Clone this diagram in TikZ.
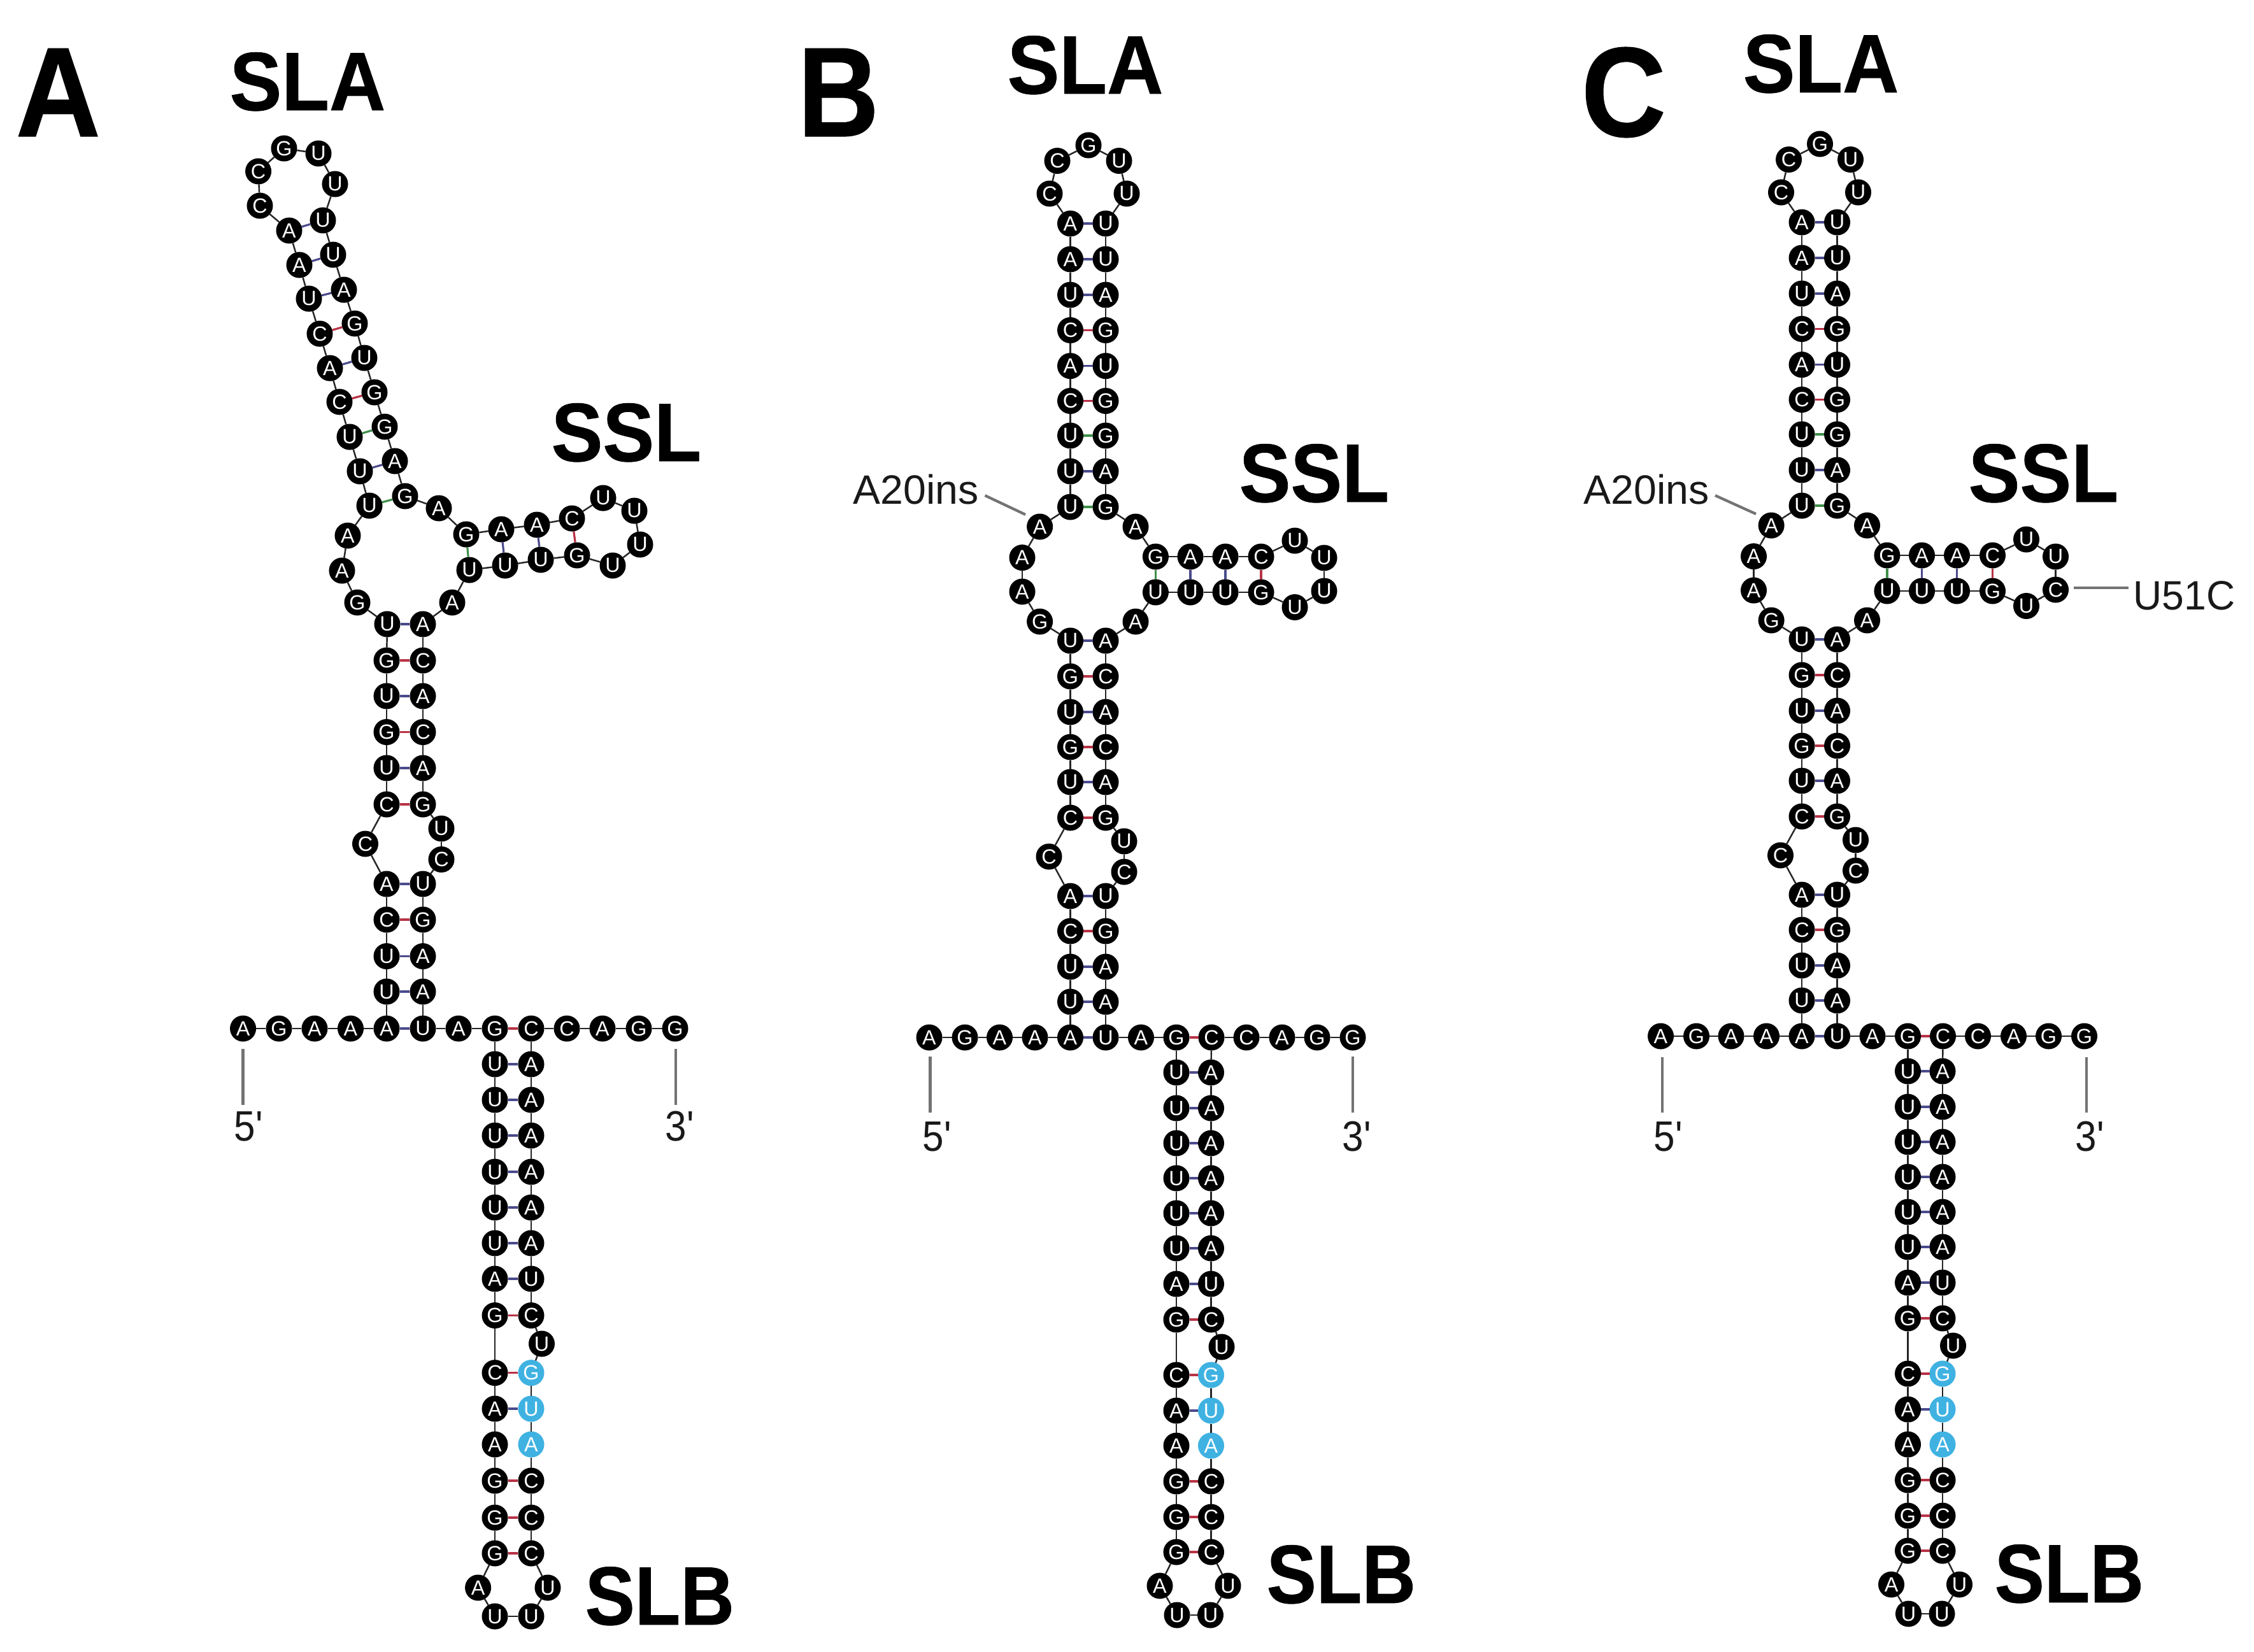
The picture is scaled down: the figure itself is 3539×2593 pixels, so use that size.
\documentclass[tikz,border=0pt]{standalone}
\usepackage{fontspec}
\setmainfont{Liberation Sans}
\newfontfamily\hv[BoldFeatures={FakeBold=0.6}]{Liberation Sans}
\newfontfamily\plainf{Liberation Sans}
\definecolor{nucblue}{HTML}{3FB2E2}
\definecolor{pr}{HTML}{B83245}
\definecolor{pb}{HTML}{4A4A8C}
\definecolor{pg}{HTML}{3F8F4A}
\tikzset{
  nuc/.style={circle,inner sep=0pt,outer sep=0pt,minimum size=0.41cm,text=white,font=\fontsize{9.2}{9.2}\selectfont},
  nucA/.style={nuc,fill=black},nucU/.style={nuc,fill=black},nucG/.style={nuc,fill=black},nucC/.style={nuc,fill=black},
  nuca/.style={nuc,fill=nucblue},nucu/.style={nuc,fill=nucblue},nucg/.style={nuc,fill=nucblue},
  bb/.style={draw=black!85,line width=0.7pt},
  r/.style={draw=pr,line width=0.9pt},
  b/.style={draw=pb,line width=0.9pt},
  g/.style={draw=pg,line width=0.9pt},
  tick/.style={draw=black!55,line width=1.2pt},
  big/.style={anchor=base west,inner sep=0pt,text=black,font=\hv\bfseries\fontsize{37}{37}\selectfont},
  panel/.style={anchor=base west,inner sep=0pt,text=black,font=\hv\bfseries\fontsize{57}{57}\selectfont},
  thin/.style={anchor=base west,inner sep=0pt,text=black!90,font=\plainf\fontsize{18.3}{18.3}\selectfont},
}
\newcommand{\rna}[3]{%
  \foreach \x/\y/\lt [count=\i] in #2 {\node[nuc\lt] (#1\i) at (\x,\y) {\MakeUppercase{\lt}};}
  \foreach \x/\y/\lt [count=\i] in #2 {\ifnum\i>1 \pgfmathtruncatemacro\p{\i-1}\draw[bb] (#1\p) -- (#1\i);\fi}
  \foreach \s/\t/\c in #3 {\draw[\c] (#1\s) -- (#1\t);}
}
\def\seqA{381.6/1615/A,438/1615/G,494/1615/A,550.5/1615/A,607/1615/A,
607/1557/U,607/1501.5/U,607/1444/C,607/1388/A,573.5/1325/C,607/1263/C,607/1206/U,607/1149.5/G,607/1093/U,607/1037/G,608/980/U,
561/946/G,537/896/A,546/841/A,580/794/U,565/740/U,549/686/U,533/631/C,518/578/A,502/524/C,485/469/U,470/416/A,454/362/A,
408/323/C,405.6/269/C,446/233/G,500/241/U,526/289/U,507/346/U,523/400/U,540/455/A,557/508/G,572/562/U,588/616/G,604/670/G,620/724/A,636/779/G,
689/798/A,732/839/G,787/831/A,843/824/A,898/814/C,947/782/U,996/802/U,1005/855/U,962/888/U,906/872/G,849/879/U,793/888/U,737/895/U,710/946/A,664/980/A,
664/1037/C,664/1093/A,664/1149.5/C,664/1206/A,664/1263/G,693/1301/U,693/1349.5/C,664/1388/U,664/1444/G,664/1501.5/A,664/1557/A,664/1615/U,720/1615/A,777/1615/G,
777/1671/U,777/1727/U,777/1783/U,777/1840/U,777/1896/U,777/1952/U,777/2008/A,777/2065.5/G,777/2155.6/C,777/2212/A,777/2268/A,777/2325/G,777/2383/G,777/2439/G,
750.6/2493/A,777/2538/U,834/2538/U,860/2493/U,
834/2439/C,834/2383/C,834/2325/C,834/2268/a,834/2212/u,834/2155.6/g,850.5/2110/U,834/2065.5/C,834/2008/U,834/1952/A,834/1896/A,834/1840/A,834/1783/A,834/1727/A,834/1671/A,
834/1615/C,890/1615/C,946/1615/A,1003/1615/G,1060/1615/G}
\def\pairsA{5/69/b,6/68/b,7/67/b,8/66/r,9/65/b,11/62/r,12/61/b,13/60/r,14/59/b,15/58/r,16/57/b,20/42/g,21/41/b,22/40/g,23/39/r,24/38/b,25/37/r,26/36/b,27/35/b,28/34/b,44/55/g,45/54/b,46/53/b,47/52/r,71/105/r,72/104/b,73/103/b,74/102/b,75/101/b,76/100/b,77/99/b,78/98/b,79/97/r,80/95/r,81/94/b,83/92/r,84/91/r,85/90/r}
\def\seqB#1{1459/1629/A,1515/1629/G,1569.5/1629/A,1625/1629/A,1680.5/1629/A,
1680.5/1573/U,1680.5/1518/U,1680.5/1462/C,1680.5/1407/A,1647/1345/C,1680.5/1284/C,1680.5/1228/U,1680.5/1173/G,1680.5/1118/U,1680.5/1062/G,1680.5/1006/U,
1632.6/976/G,1605/929/A,1605/875.6/A,1632.6/827/A,1680.5/796/U,1680.5/740/U,1680.5/684/U,1680.5/629.5/C,1680.5/574.6/A,1680.5/518.5/C,1680.5/463/U,1680.5/407/A,1680.5/351/A,
1648/304/C,1660/252.5/C,1709/228/G,1757/252.5/U,1769/304/U,
1736/351/U,1736/407/U,1736/463/A,1736/518.5/G,1736/574.6/U,1736/629.5/G,1736/684/G,1736/740/A,1736/796/G,
1783/827/A,1814.4/874/G,1869/874/A,1924/874/A,1980/874/C,2033/849/U,2079/876/U,2079/928/#1,2033/953.5/U,1980/930/G,1924/930/U,1869/930/U,1814.4/930/U,1783/976/A,
1736/1006/A,1736/1062/C,1736/1118/A,1736/1173/C,1736/1228/A,1736/1284/G,1765/1321/U,1765/1369/C,1736/1407/U,1736/1462/G,1736/1518/A,1736/1573/A,1736/1629/U,1791.5/1629/A,1847/1629/G,
1847/1684/U,1847/1740/U,1847/1795/U,1847/1850/U,1847/1905/U,1847/1960/U,1847/2016/A,1847/2072/G,1847/2159/C,1847/2215/A,1847/2270/A,1847/2326/G,1847/2382/G,1847/2437/G,
1821/2490/A,1848/2536/U,1900.5/2536/U,1928/2490/U,
1901.5/2437/C,1901.5/2382/C,1901.5/2326/C,1901.5/2270/a,1901.5/2215/u,1901.5/2159/g,1918/2115/U,1901.5/2072/C,1901.5/2016/U,1901.5/1960/A,1901.5/1905/A,1901.5/1850/A,1901.5/1795/A,1901.5/1740/A,1901.5/1684/A,
1902/1629/C,1957/1629/C,2013/1629/A,2068/1629/G,2124/1629/G}
\def\pairsB{5/70/b,6/69/b,7/68/b,8/67/r,9/66/b,11/63/r,12/62/b,13/61/r,14/60/b,15/59/r,16/58/b,21/43/g,22/42/b,23/41/g,24/40/r,25/39/b,26/38/r,27/37/b,28/36/b,29/35/b,45/56/g,46/55/b,47/54/b,48/53/r,72/106/r,73/105/b,74/104/b,75/103/b,76/102/b,77/101/b,78/100/b,79/99/b,80/98/r,81/96/r,82/95/b,84/93/r,85/92/r,86/91/r}
\begin{document}
\begin{tikzpicture}[x=0.01cm,y=-0.01cm]
\useasboundingbox (0,0) rectangle (3539,2593);
\fill[white] (0,0) rectangle (3539,2593);
% panel A
\rna{a}{\seqA}{\pairsA}
% panel B
\expandafter\def\expandafter\listB\expandafter{\seqB{U}}
\rna{b}{\listB}{\pairsB}
% panel C
\begin{scope}[shift={(1148.5,-2)}]
\expandafter\def\expandafter\listC\expandafter{\seqB{C}}
\rna{c}{\listC}{\pairsB}
\end{scope}
% big labels
\node[panel] (lA) at (24,214) {\scalebox{.92}[1]{A}};
\node[panel] (lB) at (1252,214) {\scalebox{.88}[1]{B}};
\node[panel] (lC) at (2482,214) {\scalebox{.92}[1]{C}};
\node[big] (slaA) at (360,173) {\scalebox{.94}[1]{SLA}};
\node[big] (slaB) at (1581,147) {\scalebox{.94}[1]{SLA}};
\node[big] (slaC) at (2736,145) {\scalebox{.94}[1]{SLA}};
\node[big] (sslA) at (865,724) {\scalebox{.93}[1]{SSL}};
\node[big] (sslB) at (1945,788) {\scalebox{.93}[1]{SSL}};
\node[big] (sslC) at (3090,788) {\scalebox{.93}[1]{SSL}};
\node[big] (slbA) at (918,2551) {\scalebox{.90}[1]{SLB}};
\node[big] (slbB) at (1988,2517) {\scalebox{.90}[1]{SLB}};
\node[big] (slbC) at (3131,2516) {\scalebox{.90}[1]{SLB}};
% ends
\foreach \p/\x/\ya/\yb/\tx/\ty/\t in {a/381.6/1647/1735/367/1791/5,e/1061/1647/1735/1044/1791/3,b/1460.5/1659/1747/1448/1807/5,f/2124/1659/1747/2107/1807/3,c/2610/1660/1747/2596/1807/5,h/3276/1660/1747/3258/1807/3}{
  \coordinate (t\p1) at (\x,\ya);
  \coordinate (t\p2) at (\x,\yb);
  \draw[tick] (t\p1) -- (t\p2);
  \node[thin] (n\p) at (\tx,\ty) {\fontsize{19}{19}\selectfont\scalebox{.9}[1]{\t'}};
}
\node[thin] (insB) at (1339,791) {A20ins};
\node[thin] (insC) at (2486,791) {A20ins};
\node[thin] (u51) at (3349,957) {\scalebox{.97}[1]{U51C}};
\coordinate (ib1) at (1546.5,778); \coordinate (ib2) at (1610,808);
\coordinate (ic1) at (2693,778); \coordinate (ic2) at (2757,807);
\coordinate (u1) at (3255.5,923); \coordinate (u2) at (3342,923);
\draw[tick] (ib1) -- (ib2);
\draw[tick] (ic1) -- (ic2);
\draw[tick] (u1) -- (u2);
\end{tikzpicture}
\end{document}
